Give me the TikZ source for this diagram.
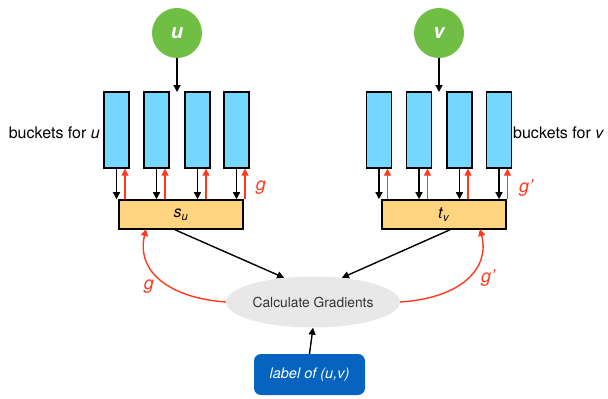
\documentclass[tikz,border=0pt]{standalone}
\usepackage{fontspec}
\setmainfont{TeX Gyre Heros}
\usetikzlibrary{arrows.meta,shapes.geometric}
\definecolor{cgreen}{RGB}{112,190,68}
\definecolor{cbucket}{RGB}{117,214,255}
\definecolor{cbox}{RGB}{255,212,128}
\definecolor{cred}{RGB}{255,56,30}
\definecolor{cblue}{RGB}{6,100,192}
\definecolor{cgray}{RGB}{232,232,232}
\begin{document}
\begin{tikzpicture}[x=1pt,y=-1pt,
  circ/.style={circle,fill=cgreen,minimum size=50pt,inner sep=0pt,text=white,font=\fontsize{20}{22}\selectfont\bfseries\itshape},
  bucket/.style={rectangle,draw=black,line width=1.4pt,fill=cbucket,minimum width=25pt,minimum height=76pt,inner sep=0pt},
  emb/.style={rectangle,draw=black,line width=1.6pt,fill=cbox,minimum width=124pt,minimum height=29pt,inner sep=0pt,font=\fontsize{16}{19}\selectfont},
  blk/.style={draw=black,line width=1.4pt,-{Triangle[length=7pt,width=7pt]}},
  redarr/.style={draw=cred,line width=1.4pt,-{Triangle[length=7pt,width=7pt]}},
  glab/.style={text=cred,font=\fontsize{18}{21}\selectfont\itshape,inner sep=0pt},
  txt/.style={font=\fontsize{16}{19}\selectfont,inner sep=0pt}]
\useasboundingbox (0,0) rectangle (608,399);

% top circles
\node[circ] (u) at (177,33) {u};
\node[circ] (v) at (439,33) {v};
\coordinate (ut) at (177,92);
\coordinate (vt) at (439,92);
\draw[blk] (u.south) -- (ut);
\draw[blk] (v.south) -- (vt);

% buckets
\node[bucket] (bu1) at (116.5,130) {};
\node[bucket] (bu2) at (156.5,130) {};
\node[bucket] (bu3) at (197.5,130) {};
\node[bucket] (bu4) at (236.5,130) {};
\node[bucket] (bv1) at (379,130) {};
\node[bucket] (bv2) at (419,130) {};
\node[bucket] (bv3) at (459.5,130) {};
\node[bucket] (bv4) at (499,130) {};

\node[txt,anchor=east] (lu) at (100,133) {buckets for \textit{u}};
\node[txt,anchor=west] (lv) at (513,133) {buckets for \textit{v}};

% embedding boxes
\node[emb] (su) at (181,214.5) {\textit{s}\textsubscript{\textit{u}}};
\node[emb] (tv) at (444,214.5) {\textit{t}\textsubscript{\textit{v}}};

\foreach \b in {bu1,bu2,bu3,bu4}{
  \draw[blk] (\b.south) -- (\b.south |- su.north);
  \draw[redarr] ([xshift=8.5pt]\b.south |- su.north) -- ([xshift=8.5pt]\b.south);
}
\foreach \b in {bv1,bv2,bv3,bv4}{
  \draw[blk] (\b.south) -- (\b.south |- tv.north);
  \draw[redarr] ([xshift=8.5pt]\b.south |- tv.north) -- ([xshift=8.5pt]\b.south);
}
\node[glab] (g1) at (261,188) {g};
\node[glab] (g2) at (526,188) {g’};

% gradient ellipse
\node[ellipse,fill=cgray,minimum width=174pt,minimum height=51pt,inner sep=0pt,font=\fontsize{13.8}{16}\selectfont,text={black!80}] (cg) at (313,302) {Calculate Gradients};

\draw[blk] ([xshift=-6pt]su.south) -- (cg.140);
\draw[blk] ([xshift=6pt]tv.south) -- (cg.40);

\coordinate (su1) at (146,229);
\coordinate (tv1) at (480,229);
\draw[redarr] (cg.west) .. controls (170,298) and (136,272) .. (su1);
\draw[redarr] (cg.east) .. controls (462,298) and (490,268) .. (tv1);
\node[glab] (g3) at (149,287) {g};
\node[glab] (g4) at (488,278) {g’};

% label box
\node[rectangle,rounded corners=7pt,fill=cblue,minimum width=111pt,minimum height=41pt,inner sep=0pt,text=white,font=\fontsize{14.5}{17}\selectfont\itshape] (lab) at (309.5,374.5) {label of (u,v)};
\draw[blk] (lab.north) -- (cg.south);
\end{tikzpicture}
\end{document}
